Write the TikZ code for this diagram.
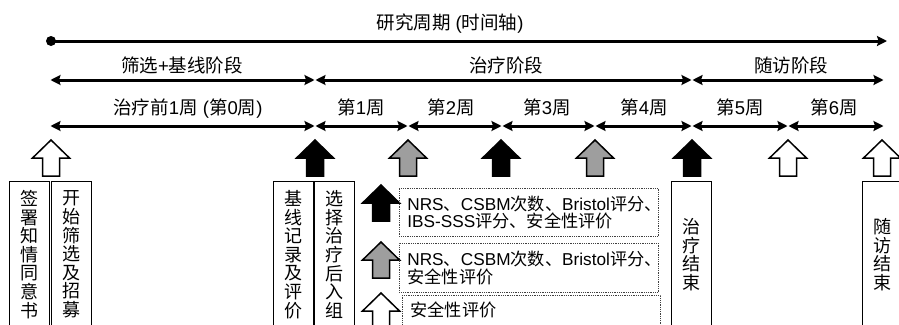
\documentclass[tikz,border=0pt]{standalone}
\usepackage{fontspec}
\setmainfont{Noto Sans CJK SC}
\newfontfamily\lat{Liberation Sans}
\usetikzlibrary{arrows.meta}
\newcommand\La[1]{{\lat #1}}
\begin{document}
\begin{tikzpicture}[x=1pt,y=-1pt,
  tip/.tip={Stealth[length=10pt,width=10pt,inset=1.5pt]},
  tl/.style={line width=3pt, {tip}-{tip}, shorten <=0.5pt, shorten >=0.5pt},
  lbl/.style={font=\fontsize{18.5}{20}\selectfont, anchor=base, inner sep=0pt},
  vbox/.style={draw, line width=1pt, minimum width=40pt, minimum height=146pt, anchor=north, align=center, inner sep=0pt, font=\fontsize{18}{18.6}\selectfont},
  dbox/.style={draw=black!75, densely dotted, line width=0.8pt, anchor=north west, align=left, font=\fontsize{17.2}{17.5}\selectfont, text width=243pt, inner xsep=8pt, inner ysep=0pt},
  pics/blockup/.style={code={\draw[line width=1.5pt, fill=#1, line join=miter] (0,0) -- (18.5,18) -- (8.5,18) -- (8.5,36) -- (-8.5,36) -- (-8.5,18) -- (-18.5,18) -- cycle;}}
]
\useasboundingbox (0,0) rectangle (899,324);
\clip (0,0) rectangle (899,324);

% top time axis
\coordinate (A) at (51,41);
\coordinate (Aend) at (887,41);
\draw[line width=3pt, -{tip}] (A) -- (Aend);
\fill (A) circle (5pt);
\node[lbl] (title) at (450,29) {研究周期\La{\ (}时间轴\La{)}};

% phases
\coordinate (p0) at (50,80);
\coordinate (p1) at (315,80);
\coordinate (p2) at (692,80);
\coordinate (p3) at (884,80);
\draw[tl] (p0) -- (p1);
\draw[tl] (p1) -- (p2);
\draw[tl] (p2) -- (p3);
\node[lbl] (ph1) at (182,72) {筛选\La{+}基线阶段};
\node[lbl] (ph2) at (506,72) {治疗阶段};
\node[lbl] (ph3) at (791,72) {随访阶段};

% weeks
\coordinate (q0) at (50,126);
\coordinate (q1) at (315,126);
\coordinate (q2) at (408,126);
\coordinate (q3) at (502,126);
\coordinate (q4) at (595,126);
\coordinate (q5) at (692,126);
\coordinate (q6) at (788,126);
\coordinate (q7) at (884,126);
\draw[tl] (q0) -- (q1);
\draw[tl] (q1) -- (q2);
\draw[tl] (q2) -- (q3);
\draw[tl] (q3) -- (q4);
\draw[tl] (q4) -- (q5);
\draw[tl] (q5) -- (q6);
\draw[tl] (q6) -- (q7);
\node[lbl] (w0) at (188,114) {治疗前\La{1}周\La{\ (}第\La{0}周\La{)}};
\node[lbl] (w1) at (361,114) {第\La{1}周};
\node[lbl] (w2) at (451,114) {第\La{2}周};
\node[lbl] (w3) at (547,114) {第\La{3}周};
\node[lbl] (w4) at (644,114) {第\La{4}周};
\node[lbl] (w5) at (740,114) {第\La{5}周};
\node[lbl] (w6) at (834,114) {第\La{6}周};

% visit arrows
\pic at (51,140) {blockup=white};
\pic at (315,140) {blockup=black};
\pic at (408,140) {blockup=black!38};
\pic at (501,140) {blockup=black};
\pic at (595,140) {blockup=black!38};
\pic at (692,140) {blockup=black};
\pic at (788,140) {blockup=white};
\pic at (882,140) {blockup=white};

% legend arrows
\pic at (381,185) {blockup=black};
\pic at (381,242) {blockup=black!38};
\pic at (381,293) {blockup=white};

% event boxes
\node[vbox] (sign) at (29,181) {签\\署\\知\\情\\同\\意\\书};
\node[vbox] (screen) at (71.5,181) {开\\始\\筛\\选\\及\\招\\募};
\node[vbox] (base) at (293,181) {基\\线\\记\\录\\及\\评\\价};
\node[vbox] (rand) at (334.5,181) {选\\择\\治\\疗\\后\\入\\组};
\node[vbox] (endtx) at (691.5,181) {治\\疗\\结\\束};
\node[vbox] (endfu) at (882,181) {随\\访\\结\\束};

% assessment boxes
\node[dbox, minimum height=48pt] (ev1) at (399,188) {\La{NRS}、\La{CSBM}次数、\La{Bristol}评分、\\\La{IBS-SSS}评分、安全性评价};
\node[dbox, minimum height=49pt] (ev2) at (399,243) {\La{NRS}、\La{CSBM}次数、\La{Bristol}评分、\\安全性评价};
\node[dbox, minimum height=30pt, text width=242pt] (ev3) at (402,295) {安全性评价};
\end{tikzpicture}
\end{document}
